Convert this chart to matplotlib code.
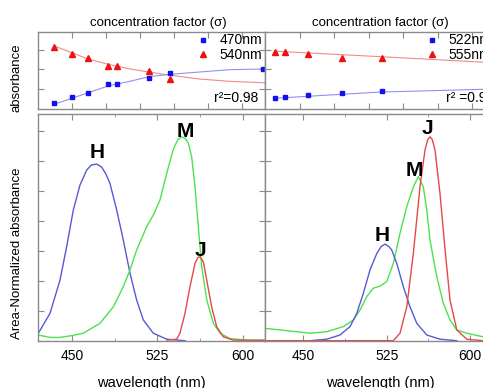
import matplotlib
matplotlib.use('Agg')
import matplotlib.pyplot as plt

plt.rcParams['font.family'] = ['Liberation Sans', 'DejaVu Sans']

# ---- top panels: absorbance vs concentration factor ----
conc_left = [0.7, 1.5, 2.2, 3.1, 3.5, 4.9, 5.8]
abs_470 = [0.08, 0.16, 0.21, 0.32, 0.32, 0.40, 0.47]
abs_540 = [0.81, 0.71, 0.66, 0.56, 0.56, 0.49, 0.39]
conc_470_extra = [9.9]
abs_470_extra = [0.52]

fit_conc_left = [0.7, 1.5, 2.2, 3.1, 4.05, 4.9, 5.8, 7.1, 8.4, 10.0]
fit_540 = [0.82, 0.73, 0.65, 0.58, 0.52, 0.48, 0.44, 0.39, 0.36, 0.34]
fit_470 = [0.06, 0.14, 0.21, 0.30, 0.36, 0.42, 0.45, 0.48, 0.51, 0.52]

conc_right = [0.44, 0.88, 1.85, 3.35, 5.1]
abs_522 = [0.14, 0.16, 0.18, 0.21, 0.23]
abs_555 = [0.74, 0.74, 0.71, 0.66, 0.66]
fit_conc_right = [0.44, 5.0, 10.0]
fit_522 = [0.14, 0.22, 0.26]
fit_555 = [0.75, 0.68, 0.60]

# ---- bottom panels: area-normalized spectra ----
l_h_wl = [419.6, 430.7, 439.5, 445.3, 451.2, 457.0, 462.9, 467.0, 471.6, 476.0, 480.0,
          483.3, 489.2, 495.0, 500.9, 506.7, 512.6, 521.3, 533.1, 549.1]
l_h_abs = [0.2, 0.92, 2.03, 3.14, 4.37, 5.2, 5.7, 5.87, 5.9, 5.8, 5.55,
           5.26, 4.37, 3.37, 2.26, 1.37, 0.70, 0.26, 0.06, 0.01]

l_m_wl = [420.2, 430.7, 439.5, 450.0, 459.9, 474.6, 486.3, 495.0, 500.9, 506.7, 515.5,
          521.3, 527.2, 533.1, 538.9, 543.0, 546.2, 549.5, 552.0, 555.0, 557.9, 560.8,
          563.8, 568.2, 574.0, 579.8, 588.6, 603.2, 619.3]
l_m_abs = [0.2, 0.12, 0.12, 0.18, 0.26, 0.59, 1.14, 1.81, 2.37, 3.03, 3.81,
           4.2, 4.7, 5.59, 6.4, 6.72, 6.81, 6.75, 6.6, 6.14, 5.14, 3.81,
           2.48, 1.37, 0.59, 0.26, 0.08, 0.03, 0.03]

l_j_wl = [533.1, 541.8, 544.7, 549.1, 553.5, 557.9, 560.5, 562.3, 565.2, 568.2,
          572.5, 576.9, 582.7, 591.5, 619.3]
l_j_abs = [0.03, 0.06, 0.26, 0.92, 1.81, 2.59, 2.78, 2.81, 2.64, 2.03,
           1.14, 0.48, 0.14, 0.03, 0.02]

r_m_wl = [415.5, 429.0, 456.0, 471.1, 486.0, 495.0, 501.0, 507.1, 513.0, 519.0, 525.1,
          531.0, 537.0, 543.1, 549.0, 553.5, 558.0, 561.1, 564.0, 570.1, 576.0, 582.0,
          588.1, 597.1, 611.7, 622.5]
r_m_abs = [0.42, 0.37, 0.26, 0.31, 0.48, 0.70, 1.03, 1.48, 1.76, 1.83, 1.98,
           2.59, 3.59, 4.48, 5.14, 5.48, 5.14, 4.37, 3.37, 2.14, 1.26, 0.70,
           0.37, 0.26, 0.14, 0.12]

r_h_wl = [456.0, 471.1, 483.0, 492.0, 498.1, 504.0, 510.0, 516.1, 520.0, 523.5, 527.0,
          529.6, 534.1, 540.0, 546.0, 552.1, 561.1, 573.0, 588.1]
r_h_abs = [0.01, 0.06, 0.2, 0.48, 0.92, 1.59, 2.37, 2.92, 3.15, 3.23, 3.15,
           3.03, 2.59, 1.81, 1.14, 0.59, 0.2, 0.06, 0.01]

r_j_wl = [415.5, 531.0, 537.0, 543.1, 549.0, 555.0, 559.5, 562.0, 564.0, 566.0, 568.5,
          573.0, 577.6, 582.0, 588.1, 597.1, 611.7, 622.5]
r_j_abs = [0.01, 0.01, 0.26, 1.14, 2.92, 5.14, 6.37, 6.72, 6.81, 6.72, 6.37,
           4.92, 3.03, 1.37, 0.37, 0.06, 0.01, 0.01]

peak_labels = ['H', 'M', 'J']
l_label_pos = [(471.9, 6.27), (549.1, 6.97), (562.3, 3.03)]
r_label_pos = [(520.6, 3.53), (549.6, 5.7), (561.3, 7.1)]

BLUE = '#5858d8'
GREEN = '#4ae44a'
RED = '#e44848'
SPINE = '#8a8a8a'

W, H = 483, 388
fig = plt.figure(figsize=(W / 100, H / 100), dpi=100)


def box(x0, y0, x1, y1):
    return [x0 / W, 1 - y1 / H, (x1 - x0) / W, (y1 - y0) / H]


ax_tl = fig.add_axes(box(38, 32, 265, 109))
ax_tr = fig.add_axes(box(265, 32, 495, 109))
ax_bl = fig.add_axes(box(38, 114, 265, 341))
ax_br = fig.add_axes(box(265, 114, 495, 341))

for ax in (ax_tl, ax_tr, ax_bl, ax_br):
    for s in ax.spines.values():
        s.set_color(SPINE)
        s.set_linewidth(1.0)
    ax.tick_params(which='both', direction='in', color=SPINE, top=True, right=True,
                   labelsize=10, pad=6)
    ax.tick_params(which='major', length=4)
    ax.tick_params(which='minor', length=2.5)

# top panels
for ax in (ax_tl, ax_tr):
    ax.set_xlim(0, 10)
    ax.set_ylim(0, 1)
    ax.set_xticks([1.5, 3.0, 4.5, 6.0, 7.5, 9.0])
    ax.set_yticks([0.26, 0.515, 0.77])
    ax.tick_params(labelbottom=False, labelleft=False)

ax_tl.set_title('concentration factor (σ)', fontsize=9.5, pad=4, x=0.53)
ax_tr.set_title('concentration factor (σ)', fontsize=9.5, pad=4)

ax_tl.plot(fit_conc_left, fit_540, color='#f08a8a', lw=0.8)
ax_tl.plot(fit_conc_left, fit_470, color='#9090f0', lw=0.8)
ax_tl.plot(conc_left + conc_470_extra, abs_470 + abs_470_extra, 's', color='#1010f0',
           ms=3.5, label='470nm', clip_on=False)
ax_tl.plot(conc_left, abs_540, '^', color='#f01010', ms=4.5, label='540nm')
ax_tl.text(0.97, 0.05, 'r²=0.98', transform=ax_tl.transAxes, ha='right', va='bottom',
           fontsize=10)

ax_tr.plot(fit_conc_right, fit_555, color='#f08a8a', lw=0.8)
ax_tr.plot(fit_conc_right, fit_522, color='#9090f0', lw=0.8)
ax_tr.plot(conc_right, abs_522, 's', color='#1010f0', ms=3.5, label='522nm')
ax_tr.plot(conc_right, abs_555, '^', color='#f01010', ms=4.5, label='555nm')
ax_tr.text(0.787, 0.05, 'r² =0.98', transform=ax_tr.transAxes, ha='left', va='bottom',
           fontsize=10)

for ax in (ax_tl, ax_tr):
    ax.legend(loc='upper left', bbox_to_anchor=(0.69, 1.0), frameon=False,
              fontsize=10, handlelength=1.0, handletextpad=0.7, labelspacing=0.05,
              borderaxespad=0.0, borderpad=0.1)

# bottom panels
ax_bl.set_xlim(420.2, 619.3)
ax_br.set_xlim(415.5, 622.5)
for ax in (ax_bl, ax_br):
    ax.set_ylim(0, 7.57)
    ax.set_xticks([450, 525, 600])
    ax.set_xticks([487.5, 562.5], minor=True)
    ax.set_yticks(range(1, 8))
    ax.tick_params(labelleft=False)
    ax.set_xlabel('wavelength (nm)', fontsize=10.5, labelpad=9)

ax_bl.plot(l_h_wl, l_h_abs, color=BLUE, lw=1.0)
ax_bl.plot(l_m_wl, l_m_abs, color=GREEN, lw=1.0)
ax_bl.plot(l_j_wl, l_j_abs, color=RED, lw=1.0)
ax_br.plot(r_m_wl, r_m_abs, color=GREEN, lw=1.0)
ax_br.plot(r_h_wl, r_h_abs, color=BLUE, lw=1.0)
ax_br.plot(r_j_wl, r_j_abs, color=RED, lw=1.0)

for lab, (x, y) in zip(peak_labels, l_label_pos):
    ax_bl.text(x, y, lab, ha='center', va='center', fontsize=15, fontweight='bold')
for lab, (x, y) in zip(peak_labels, r_label_pos):
    ax_br.text(x, y, lab, ha='center', va='center', fontsize=15, fontweight='bold')

fig.text(17 / W, 1 - 78 / H, 'absorbance', rotation=90, ha='center', va='center',
         fontsize=9.5)
fig.text(17 / W, 1 - 253 / H, 'Area-Normalized absorbance', rotation=90, ha='center',
         va='center', fontsize=9.5)

fig.savefig('out.png', dpi=100)
